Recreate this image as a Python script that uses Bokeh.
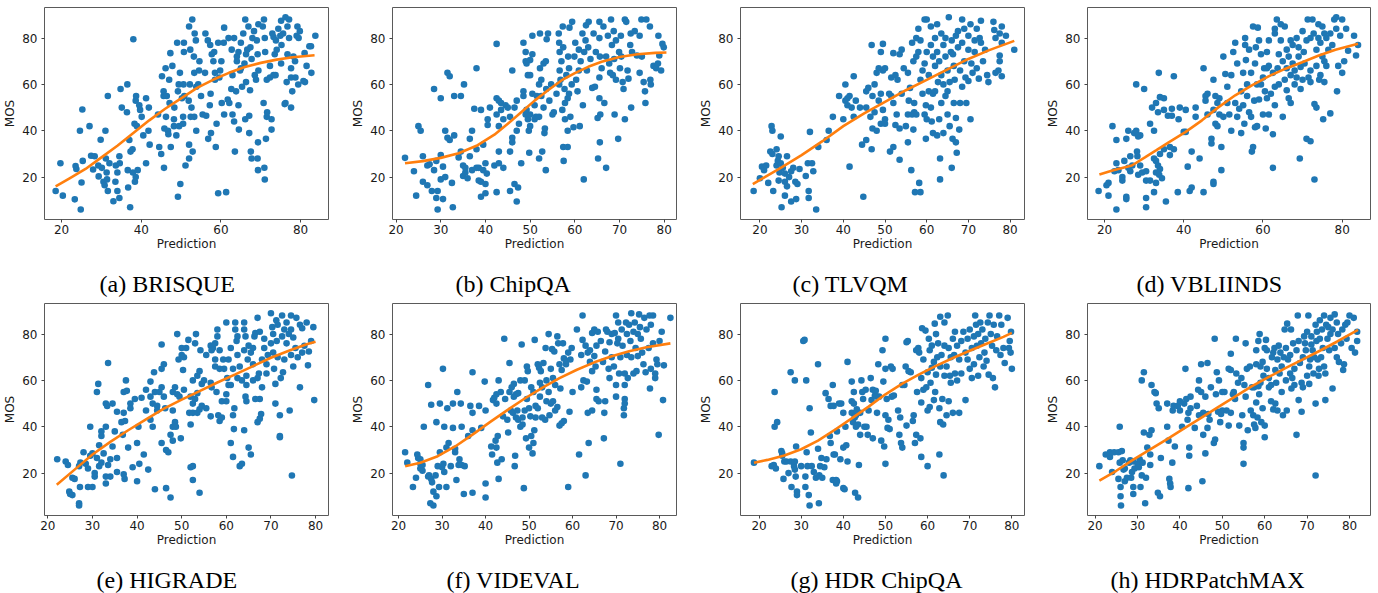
from bokeh.plotting import figure
from bokeh.layouts import column, row
from bokeh.models import Range1d, FixedTicker, Title
from bokeh.embed import file_html
from bokeh.resources import INLINE

# ---------------- data ----------------
captions = ["(a) BRISQUE", "(b) ChipQA", "(c) TLVQM", "(d) VBLIINDS",
            "(e) HIGRADE", "(f) VIDEVAL", "(g) HDR ChipQA", "(h) HDRPatchMAX"]
x_label = "Prediction"
y_label = "MOS"
y_ticks = [20, 40, 60, 80]
x_ticks_wide = [20, 40, 60, 80]
x_ticks_narrow = [20, 30, 40, 50, 60, 70, 80]

brisque_pts = [(18.5,14),(19.7,26),(20.3,12),(23.3,10.4),(24.8,6),(23.5,24.8),(23.7,23.5),(24.6,40),(25.2,49.2),(25,17.7),(25.3,27),(27,42),(27.4,29.2),(28.3,29),(27.9,23.3),(29.2,25),(29.3,20.3),(29.8,36.1),(30.5,18),(30.8,16.5),(31,40),(31.1,28),(31.3,22),(31.6,14),(31.6,55),(31.4,19),(30.1,24),(32,26),(33,9.6),(33.5,18),(33.6,25),(34,14),(34,22),(34.5,29),(34.5,11),(34.6,26),(34.8,58),(35.1,50),(36.5,60),(36.4,48),(36.6,23),(36.7,15.5),(37,36),(37.3,31),(37.2,7),(38,79.5),(37.8,32),(37.9,22),(38.6,53),(38.3,43),(38.4,18),(38.6,20),(38.7,55),(39.1,23),(38.9,42),(39.5,51),(39.7,49),(40.1,46),(40.5,38),(41.2,54),(41.2,26),(41.8,40),(41.9,50),(42.1,34),
(44.5,33),(45,30),(45.2,63.5),(44.2,47),(45.6,55),(45.6,57),(45.8,41),(45.7,24),(46.1,67),(46.2,46),(46.7,40),(46.8,38.5),(46.4,55),(47.1,52),(47,62),(47.3,73.5),(47.4,33),(47.8,68),(48.2,45),(48.2,42),(48.3,50),(48.8,38),(49,78),(49.2,11.5),(49.2,57),(49.5,42),(49.4,60),(49.7,65),(49.8,17),(50.2,54),(50.5,46),(50.5,43),(50.7,78),(50.7,74),(50.6,60),(50.8,55),(51.1,25),(52,85),(51.9,53),(52,34),(52,28),(52.2,60),(52.4,46),(52.3,75),(52.8,88),(52.6,50),(52.9,31),(53.2,72),(53.4,82),(53.3,65),(53.3,46),(53.8,59),(53.7,79),(54.3,60),(54.5,66),(53.8,40),(54.6,70),(55,55),(55.4,47),(56.1,82),(56,65),(56.3,46.5),(56.7,79),(56.8,36.5),(57.3,77),(57.2,51),(57.5,39),(57.7,73),(57.4,56),(58.1,70),(58.3,74),(58.5,65),(58.5,62),(58.9,43),(58.7,33),(59.3,13),(59.3,78),(59.6,63),(60.1,70),(60.2,52),(60.7,78),(59.8,66),(60.8,84.5),(60.8,47),(61.3,13.5),(61.7,53.5),(61.9,80),(62.1,52),(62.6,58),(62.7,75),(62.9,64),(62.9,47),(63.3,80),(63.3,44),(63.5,31),(63.8,57),(64,72),(64,70),(64.4,74),(64.5,40.5),(64.4,51),(64.8,66),(65,67),(65,78),(65.3,59),(66.1,45),(66.1,88),(65.6,82),(66.3,73),(66.3,61),(65.9,69),(66.6,75),(66.9,85),(67.1,46.5),(67.1,39),(67.5,31),(67.7,28),(67.3,57.5),(67.4,76),(67.9,80),(67.7,71),(68.3,83),(68.5,64),(68.8,62),(69.2,73),(69,79),(69.4,66),(69.4,86),(69.3,35),(69.3,23),(69.2,28),(70.7,52),(71,80),(70.5,85),(70.8,88),(70.9,24),(71,19),(71.1,74),(71.5,46),(71.3,36.5),(71.6,48),(71.5,62),(72.3,63),(72.3,68),(73.2,80.5),(72.9,82),(73.2,64),(72.7,40.5),(72.7,45),(73.8,79),(73.5,73),(74,75),(73.7,64),(74.4,84),(74.9,81),(75.1,87.5),(75.1,69),(75.2,77),(75.6,82),(76,51.5),(76.2,89),(76.7,85),(76.5,61),(76.2,52),(76.7,73),(77.1,80),(77.1,88),(77.6,67),(77.6,63),(77.6,50),(77.9,57),(78.2,72),(78.6,70),(78.7,63),(79,81),(79.2,85),(79.4,60),(79.8,83),(79.5,80),(81.1,61),(81,73.5),(80.7,61.5),(81.5,68),(82.2,76.5),(82.6,76.5),(82.7,65),(83.7,81)]
brisque_fit_x = [18.5, 22, 26, 30, 34, 38, 42, 46, 50, 54, 58, 62, 66, 70, 74, 78, 83.5]
brisque_fit_y = [16, 19.5, 23.5, 28.5, 33.5, 39, 44.5, 49.5, 54, 58.5, 62, 65, 67.5, 69.3, 70.7, 71.7, 72.6]

chipqa_pts = [(22,28.3),(24,22.5),(24.5,12),(25,42),(25.5,40),(26,18),(26,29),(27,25),(27,16.5),(27.5,25.5),(28,14),(28.5,58),(28.5,23),(29,11),(29,27),(29.3,14),(29.3,6),(30,29.5),(30,54),(30,19),(30.5,10.5),(30.5,24.5),(31,20),(31,40),(31.5,65),(31.5,37),(32,36),(32,63.5),(32.5,17.5),(32.7,7),(33,55),(33,38),(34,28.5),(34.5,55),(34.5,31),(35,20.5),(35,25),(35.2,60),(35.5,22),(35.5,24),(36,19.5),(36.5,29),(36.5,36.5),(37,23),(37,40),(37.5,49.5),(38,67),(38,24),(38,32),(38.5,18.5),(38.5,24),(39,49),(39,18),(39,11.5),(39.5,34),(39.5,23),(40,13),(40,17),(40,26),(40.3,21.5),(40.5,42.5),(40.5,45),(41,50),(42,25),(42.5,54),(42.5,13.5),(42.5,47),(42.5,77.5),(43,53),(43,26),(43,31),(43,42),(43.5,49),(43.5,52),(44,45),(44,24),(44.5,51),(45,50),(45.5,31),(45.5,14),(45.5,46),(46,66),(46,35),(46,37),(46.5,50),(46.5,17),(47,9.5),(47,40),(47,53),(47.3,15.5),(47.5,43),(48,26),(48.5,57),(48.5,55),(48.5,78),(49,70),(49,74),(49.2,69),(49,47),(49.2,49),(49.5,64),(49.5,45),(49.7,40),(49.8,30.5),(50,70.5),(50,64),(50,47),(50,42),(50.5,81),(50.5,73),(50.5,56),(51,45),(51,51),(51.3,46),(51.5,55),(52,60),(52,28),(52,46),(52.2,67),(52.2,82),(52.5,55),(52.5,62),(52.7,31),(53,69),(53.2,39),(53,50),(53.5,70),(53.3,41),(53.5,23),(53.7,79.5),(53.6,58),(54,82),(54.3,53),(54.7,60),(55,47),(55.3,48),(55.9,56),(56.4,82),(56.5,78),(56.6,74),(56.5,60),(56.6,66),(56.8,62),(57,70),(57.3,85),(57.2,49),(57.4,33),(57.5,27),(57.4,76),(57.7,58),(57.8,52),(57.8,45),(58.1,64),(58.4,40),(58.4,33),(58.4,54),(58.5,72),(58.7,67),(58.7,56),(58.8,84.5),(59,46),(59.3,60),(59.4,87),(59.7,41.5),(59.9,72),(60.1,78),(60.3,62),(60.6,57),(60.9,75),(60.9,66),(61.1,42),(61.3,70),(61.7,82),(61.8,51),(62,19),(62.1,74),(62.4,79),(62.5,85.5),(62.7,66),(63,76),(63.1,87),(63.5,71),(63.9,58.5),(64.2,82),(64.5,59),(64.7,74),(65.2,28),(65.1,45.5),(65.6,35),(65.5,63),(65.6,72),(65.5,80),(65.5,54),(65.7,47),(65.5,87),(66,67),(66.6,52),(66.4,85),(67,24),(67,72),(67.4,81),(67.7,69),(67.9,65),(68.1,88),(68.3,77),(68.5,64),(68.7,83),(68.8,71),(68.9,47),(69.2,79),(69.2,62),(69.7,36.5),(69.9,74),(70.3,81),(70.1,67),(70.4,72),(70.9,58),(70.7,61),(71.2,88),(71.2,45),(71.5,87),(71.8,66),(72,62.5),(72.4,77),(72.5,82),(72.6,50),(72.8,74),(73.4,83),(73.9,72.5),(74.5,81),(74.5,65),(74.9,88),(75,72),(75.4,61),(75.7,57),(75.8,52),(76,88),(76.8,85),(76.9,62),(77,60),(77.6,68),(78.2,67),(78.6,69),(78.7,81),(78.9,72.5),(79.3,66),(79.6,77.5),(79.9,76)]
chipqa_fit_x = [22, 26, 30, 34, 38, 42, 45, 48, 51, 54, 57, 60, 63, 66, 70, 74, 78, 80.5]
chipqa_fit_y = [26, 26.9, 28.3, 30.3, 33.5, 38.3, 43, 48, 53, 57.5, 61.7, 64.9, 67.6, 69.8, 71.8, 73, 73.6, 73.8]

tlvqm_pts = [(18.5,14),(20,19.5),(20.5,24.5),(21,23),(21.5,25),(22,17.5),(22.5,31),(22.8,42),(23,40),(23,30),(23.2,14),(24,25),(24,32),(24.3,27),(24.5,18.5),(24.5,29),(24.7,22),(25,26),(25,37.5),(25.2,7),(25.5,24),(26,18),(26,21.5),(26,12),(26.5,16),(26.5,29),(27,20),(27.5,22.5),(27.5,9.5),(28,24),(28.5,18),(28.7,10.5),(29,17),(29.5,23.5),(31,20.5),(31.5,26),(31.7,14),(31.7,11),(32,39.5),(32.5,26),(32.8,22.5),(33.5,6),(34,33),(36,36),(36.5,40),(37.5,46),(39,55),(40,45),(40.5,53),(40.5,60),(41,51),(41,54),(41.5,24.5),(41.5,55),(42,50),(42.5,63.5),(42.5,46),(43,53),(44,50),(44.5,34),(44.8,11.5),(45.5,50),(45.5,36),(45.5,57),(46,58.5),(46.5,46),(46.8,77),(46.8,32),(47,55),(47,41),(47.5,48),(47.5,60),(48,40),(48,65),(48.5,53),(48.5,67),(49,74),(49,56),(49,43),(49.5,77.5),(49.5,66),(49.5,49),(50,67),(50,45),(50,43),(51,56),(51.2,31),(51.5,55),(51.5,63),(52,52),(52,73.5),(52,33),(52.5,42.5),(52.5,64),(52.8,47),(53,62),(53.5,41),(53.5,27.5),(53.5,73),(54,56),(54,75),(54.5,67),(55,42),(55.5,65),(55.5,47),(55.5,35),(55.7,53),(56,58.5),(56.3,23),(56.5,78),(56.5,47),(56.8,40.5),(56.8,70),(57,48),(57,52),(57.2,13.5),(57.5,80),(57.5,47),(57.5,72),(58,84),(58,74),(58.2,17.5),(58.5,13.5),(58.5,62),(58.5,79),(59,56),(59,66),(59.5,47),(59.5,88),(59.5,69),(59.8,36.5),(59.8,51),(60,45),(60,74),(60,88),(60.5,57),(60.5,64),(61,85),(61,50),(61,77),(61.2,44),(61.5,72),(61.5,56),(61.5,39),(62,80),(62,68),(62,57),(62.5,38),(62.5,74),(62.5,86),(62.7,61),(63,45),(63,70),(63.2,19),(63.2,28),(63.5,52),(63.5,64),(63.5,82),(64,60),(64,77),(64,39),(64.5,55),(64.5,72),(64.5,80),(65,66),(65,47),(65,57),(65.3,89),(65.5,61),(65.5,42),(65.8,74),(66,79),(66,24),(66.2,36.5),(66.3,73),(66.5,68),(66.5,52),(66.7,62),(67,35),(67,45.5),(67,81),(67.2,30.5),(67.5,76),(67.5,83),(67.8,40.5),(68,52),(68,66),(68.5,88),(68.5,78),(68.5,59),(69,84),(69,70),(69.3,63),(69.5,52),(70,81),(70,75),(70,61.5),(70.5,45),(70.5,86),(70.7,69),(71,65),(71.5,79),(71.5,74),(72,84),(72,67),(72.5,62.5),(72.7,80),(73,87.5),(73,78),(73.5,70),(74,75),(74.5,64),(74.8,61),(76,87),(76.2,83.5),(76.5,65),(76.5,80),(77.2,66),(77.5,82),(77.5,70),(77.5,72.5),(78,78),(78,85),(78,63.5),(79,81),(81,75)]
tlvqm_fit_x = [18.3, 25, 30, 35, 40, 45, 50, 55, 60, 65, 70, 75, 81]
tlvqm_fit_y = [17, 24, 29.5, 35.5, 42, 47.5, 52.5, 57.5, 62, 66.5, 71, 74.8, 78.8]

vbliinds_pts = [(18.5,14),(20.5,16.5),(21,12),(21,17.5),(22,42),(22.5,22.5),(23,6),(23,36),(23,26),(23.5,23),(24.5,18.5),(24.5,20),(25,27),(25.5,10.5),(25.5,11.5),(25.5,36.5),(26,24),(26,40),(26.5,29),(26.5,22.5),(27,25),(27.5,39),(28,40),(28,60),(28.2,31),(28.3,29),(28.5,37.5),(28.5,21),(29,25),(29,38),(29.5,22),(30,58),(30.5,18.5),(30.5,11),(30.5,22.5),(30.5,7),(31.5,43),(31.5,18.5),(32,50),(32.5,28),(32.5,40),(32.5,13.5),(33,52),(33,22),(33,17.5),(33,27),(33.5,25),(33.5,48),(33.7,65),(33.8,21),(34,54.5),(34,30),(34,23.5),(34.5,19.5),(35,54),(35,32),(35,49),(35.5,9.5),(36,46.5),(36.5,29.5),(36.5,33),(37,49.5),(37,46.5),(37.5,63.5),(37.5,32),(38.5,13.5),(38.7,45),(39,50),(40,39.5),(40.5,39.5),(40.5,49),(41,24.5),(41.5,14),(42,15.5),(42,31),(43,46),(43,50),(44,28),(45,13.5),(45,67),(45.5,55),(45.5,53),(46,47),(46,56),(47,36.5),(47,34.5),(47.5,62),(47.5,49),(47.5,17),(47.5,18),(48,55),(48,43),(48.5,42),(48.5,52),(49,54),(49,47),(49.5,23),(49.5,33),(50,72),(50,46),(50.5,64.5),(51,59),(51,52),(51.5,47),(52,64),(52,40),(52.5,74),(53,78),(53,52),(53.5,46),(53.5,69),(54,49.5),(54.5,57),(54.5,39),(55,65),(55,51),(55.3,43),(55.5,77),(55.5,80),(55.7,70.5),(56,60),(56,55),(56.5,48),(56.5,75),(57,65),(57,46),(57.2,31),(57.5,33),(57.5,85),(57.8,53),(58,41.5),(58,69),(58.2,76),(58.5,42),(58.5,60),(58.7,84.5),(59,53.5),(59,79),(59.5,73),(59.5,60),(60,47),(60,63),(60.3,67),(60.5,57),(60.7,41),(61,74),(61,67),(61,54),(61.5,79),(61.5,68),(61.5,47),(62,56),(62.5,24),(62.5,38.5),(62.5,65),(63,84),(63,82),(63,59),(63,51),(63.5,88),(63.7,67),(64,60),(64,73),(64.5,86),(64.5,79),(65,70),(65,46),(65.5,62),(65.5,85),(66,67),(66,57.5),(66,75),(66.5,54),(66.5,72),(67,79),(67,52),(67,64),(67.5,69),(67.5,77),(68,60),(68,66),(68.5,63),(68.5,80),(69,72),(69,76),(69.3,28),(69.5,58),(69.5,67.5),(70,62),(70,83),(70.3,74),(70.5,69),(71,36.5),(71,79),(71.3,88),(71.5,63),(72,66),(72,35.5),(72,61),(72,80),(72.5,88),(72.8,82),(73,19),(73,51.5),(73.5,50),(73.5,75),(73.5,68),(74,86),(74,80),(74.2,62),(74.5,64),(74.5,78),(75,72),(75,85),(75.2,45),(75.5,70),(75.5,61),(75.5,82),(76,68),(76,80),(76.5,75),(77,47.5),(77,82),(77.5,77),(78,88),(78.5,89),(78.5,84),(78.7,57),(79,68),(79.5,81),(80,65),(80,88),(80.5,70),(81,84),(81.5,74.5),(83,81),(83.5,72.5),(84,77)]
vbliinds_fit_x = [18.7, 22, 26.9, 30.3, 33, 36.2, 40.4, 44.6, 48.8, 53, 57.2, 61.4, 65.7, 69.9, 74.1, 78.3, 84]
vbliinds_fit_y = [21.1, 22.8, 25, 28.6, 31.5, 35, 39.4, 44.5, 50.2, 55.3, 59.6, 63.5, 66.8, 69.6, 72.5, 75, 77.6]

higrade_pts = [(22.1,26),(24,25),(24.5,23.5),(24.8,12),(25,11),(25.5,10.5),(25.5,18),(26,17.5),(27,23),(27,7),(27,6),(27.2,14),(27.3,24.5),(28,29),(28.5,24),(29,14),(29,22),(29.5,27.5),(29.5,40),(30,28.5),(30,14),(30.5,20),(30.5,18.5),(31,26.5),(31,55),(31.3,58.5),(31.5,32),(31.5,23),(32,36),(32,24.5),(32,38),(32.5,28.5),(33,40),(33,15.5),(33,50),(33,18.5),(33.3,49),(33.5,23.5),(33.5,67.5),(34,26),(34,18.5),(34.5,31.5),(34.5,50),(35,38),(35.5,46.5),(35.5,26.5),(35.5,20.5),(36.5,42),(36.8,36.5),(37,46),(37,55),(37,19.5),(37.2,17.5),(37.3,42.5),(37.5,60),(37.7,55.5),(38,31),(38.5,50),(38.5,48),(39,22.5),(39.5,52),(40,33),(40,16.5),(40.3,40),(40.5,24),(41,52.5),(41.5,28),(42,56),(42,47),(42.5,21.5),(43,43),(43,53),(43,59.5),(43.5,50),(43.5,40),(43.8,63.5),(44,13),(44,55),(44.5,49),(44.5,47),(45,55),(45.5,57),(45.5,75.5),(45.5,33),(45.5,65),(46,67),(46,53),(46.3,48),(46.5,30),(46.5,13.5),(47,29),(47.5,36.5),(47.5,9.5),(48,34),(48,55),(48,40),(48,47),(48.5,57),(48.5,42),(48.7,40),(49,54),(49,80),(49.3,69),(49.5,53),(49.8,35),(50,71),(50,74),(50.3,64.5),(50.5,56),(50.5,70),(51,74),(51.5,77.5),(51.7,46),(52,41),(52,22.5),(52,53),(52.5,60),(52.5,50),(52.5,23),(52.5,17),(52.5,46),(53,52),(53,76),(53.2,80),(53.5,62),(53.5,54.5),(53.5,46),(54,64),(54,47.5),(54,11.5),(54.2,73),(54.5,58.5),(54.5,49),(55,60),(55.5,71),(55.5,48),(56.5,59),(56.5,75),(56.5,44.5),(56.7,73),(56.7,57),(57,74),(57.5,76),(57.5,69),(57.5,66),(57.8,55),(58,79),(58,82),(58.2,45),(58.5,42.5),(58.5,65),(58.5,73),(59,51),(59,44),(59.3,69),(59.5,65),(60,85),(60,51),(60,54),(60.2,61),(60.5,58),(60.5,69),(61,33),(61,74),(61,58),(61.5,45),(61.5,27),(61.5,65),(61.7,39),(61.8,48),(62,82),(62,85),(62.3,77),(62.5,79),(62.5,71),(62.5,61),(63,66),(63,23),(63.5,60),(63.5,24),(64,73),(64,85),(64,82),(64,38.5),(64.3,79),(64.3,53),(64.5,58),(64.5,62),(64.5,51),(64.8,69),(65,31),(65,75),(65.5,72),(65.5,28),(66,60),(66,67),(66,74),(66.3,79),(66.5,80.5),(66.5,52),(67,42),(67,61),(67,87),(67.3,63),(67.5,81),(67.5,43.5),(67.5,52),(67.8,45.5),(68,69),(68,57),(68.5,78),(68.5,74),(69,63),(69,67),(69.3,71),(70,89),(70,76),(70.3,83),(70.5,80),(70.5,72),(70.7,65),(71,58.5),(71,50),(71.2,86),(71.3,77),(71.5,84),(71.5,70),(72,36),(72,45),(72,35.5),(72.2,61),(72.5,79),(72.5,88),(72.7,63.5),(73,82),(73,69),(73.5,85),(73.5,76),(74,80),(74.2,47),(74.5,88),(74.5,82),(74.5,71),(74.7,19),(75,66),(75,78.5),(75.5,74),(75.7,87),(76,70),(76.5,57),(76.5,84),(77,82.5),(77,72),(77.5,75),(78,85),(78.3,66.5),(78.5,72.5),(79,77),(79.5,83),(79.7,51.5)]
higrade_fit_x = [22, 26, 30, 34, 38, 42, 46, 50, 54, 58, 62, 66, 70, 74, 78, 80]
higrade_fit_y = [15, 21.5, 28, 33.5, 38.5, 43.2, 47.8, 51.7, 55.4, 59.1, 62.6, 66.2, 69.8, 72.8, 75.6, 76.7]

videval_pts = [(21.5,29),(22,24.5),(23.3,14),(24,18),(24.3,28),(24.5,26.5),(25,24),(25,26),(25,22),(25.5,23.5),(25.5,21),(25.8,40),(26.8,58),(26.8,18.5),(27,19),(27.3,7),(27.5,17.5),(27.5,49.5),(27.7,16),(28,6),(28,12),(28.5,19),(28.7,42),(28.7,10),(29,23),(29.3,14),(29.5,50),(29.5,29),(30,22.5),(30.2,65),(30.3,24),(30.5,40),(30.5,20.5),(31,14),(31,31),(31.2,48),(31.5,33),(32,23),(32.5,50),(32.5,39.5),(33,29),(33,30.5),(33.3,17),(33.5,55),(33.8,23.5),(34,26),(34.3,50),(34.5,40),(34.5,23.5),(35,11),(35.2,23),(36,36),(36.5,49),(37,38.5),(37,46),(37,11.5),(37,63.5),(38.5,49),(39,39.5),(39.8,59.5),(40,47),(40,15.5),(40,9.5),(41.3,31.5),(41.5,28),(41.7,51.5),(42,52.5),(42.3,34),(42.5,50),(42.5,31),(42.5,54),(42.7,24.5),(42.8,36),(43,17.5),(43,60),(43.5,55),(43.7,26),(44,44.5),(44.3,78),(44.5,52),(45,43),(45.2,37.5),(45.5,67.5),(45.5,55),(45.8,47),(46,57),(46.3,46),(46.5,53),(46.5,58.5),(46.7,23),(46.8,27.5),(47,54),(47,44),(47.3,47),(47.5,43),(47.5,54.5),(48,40),(48,60),(48.3,75.5),(48.5,44),(48.5,41),(48.8,13.5),(49,60),(49,47),(49.3,35),(49.5,66),(49.5,52),(49.7,64),(50,31),(50,48),(50.3,44.5),(50.5,57),(50.5,36),(50.8,28.5),(51,55),(51,33),(51.2,38.5),(51.3,77.5),(51.5,49),(51.5,44),(52,67),(52,48),(52.3,65.5),(52.5,59),(52.5,53),(52.7,64),(53,57),(53,44),(53.3,67.5),(53.7,43),(53.8,74),(54,51),(54,60),(54.5,55),(54.5,80),(54.7,45),(55,65),(55,50),(55.3,73.5),(55.5,51),(55.5,61),(55.8,72.5),(56,58),(56,47),(56.5,48.5),(56.5,79),(56.7,76),(57,40.5),(57,67),(57.2,56.5),(57.5,64.5),(57.5,41.5),(57.8,76),(58,42.5),(58,69.5),(58.5,67),(58.5,68.5),(59,72),(59,14),(59.3,46.5),(59.5,69),(59.8,74),(60,55),(61,82),(61.5,28),(62,71),(62,57),(62.3,77.5),(62.3,88),(62.5,60),(63,75),(63,19),(63.3,59.5),(63.5,72),(63.5,46),(63.7,33),(64,68),(64,73),(64.5,80.5),(64.5,64),(64.5,47),(65,82),(65,70.5),(65.3,66),(65.5,56),(65.5,52),(65.5,75),(65.8,81),(66,51),(66.5,77),(67,68),(67.2,35),(67.3,46),(67.5,51),(67.5,72.5),(67.7,82),(68,81),(68.3,65),(68.5,76.5),(68.5,61),(69,80),(69,70),(69.5,66),(69.7,80.5),(70,88),(70,58),(70,53),(70.3,76),(70.5,85),(70.5,78),(70.7,63),(71,24),(71,70),(71.3,82),(71.5,75),(71.8,45),(71.8,48),(72,52),(72,50),(72,58),(72,63),(72.3,85),(72.5,80),(72.5,71),(72.7,61),(73,84),(73.3,77),(73.5,89),(73.5,70),(74,81),(74,63),(74.3,85),(74.5,74),(74.7,64),(75,80),(75,70.5),(75.3,88.5),(75.5,83),(75.7,78),(76,72),(76.3,67),(76.5,87),(76.8,63.5),(77,82),(77.5,74),(77.7,88),(77.8,56.5),(78,84),(78,65),(78.5,88),(78.5,76),(79,63),(79,61),(79.3,69),(79.5,67),(79.8,36.5),(80,77),(80.5,81),(80.8,51.5),(81,66.5),(82.5,87)]
videval_fit_x = [21.5, 25, 29, 33, 37, 41, 45, 49, 53, 57, 61, 65, 69, 73, 77, 82.5]
videval_fit_y = [23, 24.5, 27.3, 31.5, 36.6, 42, 47.2, 52.2, 56.8, 61, 64.6, 67.8, 70.4, 72.6, 74.3, 76]

hdrchipqa_pts = [(18.8,24.5),(23,23),(23.5,23.5),(23.7,40),(23.7,55),(24,22),(24.3,42),(25.3,29.5),(25.5,27.5),(25.5,28.5),(25.8,17.5),(26,25),(26.5,25),(27,20),(27.5,63.5),(27.5,25),(27.7,14),(28.3,23),(28.5,25),(28.5,21.5),(28.5,60),(28.7,18.5),(28.8,31.5),(29,12),(29,10.5),(30,23),(30.5,77),(30.8,77.5),(31,14),(31,18.5),(31.2,60),(31.3,29),(31.5,23),(31.8,10.5),(32,48),(32,6),(32.3,37.5),(32.5,23),(33,20.5),(33.5,18),(34,67),(34,30.5),(34.2,7),(34.3,19),(34.5,23),(34.8,26.5),(35,18),(35.5,22.5),(35.8,54.5),(36,26),(36.5,52),(36.8,36),(37,49),(37,33),(37.5,17),(37.5,58),(37.7,28),(37.7,49),(38,28),(38.3,17),(38.3,15.5),(38.5,38),(38.5,16.5),(39,50),(39.3,26),(39.5,50),(40,46),(40,31),(40,13.5),(40.3,13),(40.5,40),(40.7,32),(41,68),(41,25),(42,59.5),(42,46),(42,51),(42.3,42),(42.5,50),(42.5,55),(42.7,44),(42.8,11.5),(43,45),(43,40),(43.2,47.5),(43.5,9.5),(43.5,41),(43.7,23.5),(44,46),(44,36.5),(44.3,60),(44.5,55),(44.7,52),(45,40),(45.3,56),(45.5,40),(45.8,36.5),(46,47),(46.5,61),(46.7,51.5),(47,35),(47,56),(47.5,53.5),(47.7,55.5),(48,53),(48,46),(48.3,67),(48.5,53),(49,34),(49.3,73),(49.5,59.5),(49.7,31.5),(50,24),(50,45),(50,78),(50,65),(50.3,52),(50.5,39.5),(50.7,43),(51,39),(51.3,66),(51.5,53),(51.7,65),(52,53.5),(53,47),(53.3,36.5),(53.5,44),(53.7,33),(54,58),(54,31),(54.5,58),(54.8,66),(55,40.5),(55,76.5),(55.3,77),(55.5,64),(56,63.5),(56.5,42.5),(56.7,45),(57,33),(57.3,73),(57.3,36.5),(57.5,55),(57.8,74),(58,72),(58.3,35),(58.5,61),(58.5,27),(58.5,50.5),(58.7,82.5),(59,69),(59,56),(59.5,81.5),(59.7,57),(60,47),(60,23),(60,63.5),(60.3,78),(60.5,73),(60.5,48.5),(60.7,59),(61,65.5),(61,75),(61.5,51.5),(61.5,68),(61.7,84.5),(61.8,55),(62,80),(62,62.5),(62.3,70),(62.5,76),(62.8,48),(62.8,28),(63,42),(63,87.5),(63,66),(63.3,71),(63.5,52),(63.7,41),(63.8,19),(64,75),(64,85),(64,62),(64.5,66),(64.5,45),(64.8,88),(65,74),(65,51),(65.3,62),(65.5,70),(65.5,59),(66,46),(66,78),(66.3,71),(66.5,81),(66.5,63),(67,60),(67,75),(67.5,46),(67.5,69),(68,77),(68,63),(68.5,81),(69,72),(69,51.5),(69.5,78),(69.5,69),(70,65),(70,82),(70.5,74),(70.5,61),(71,67),(71,79),(71.3,88),(71.5,84),(71.7,75),(72,62),(72,80),(72.3,70),(72.5,85),(72.7,76),(73,82),(73.3,66),(73.5,72),(73.7,78),(74,68.5),(74.3,85),(74.5,62.5),(74.7,88),(75,80),(75.3,75),(75.5,61),(75.7,84),(76,57),(76.3,73),(76.5,79),(77,88),(77.3,71),(77.5,84),(78,74),(78.3,67.5),(79,87),(79.3,74),(79.5,77),(79.7,72),(80,65),(79.8,81)]
hdrchipqa_fit_x = [18.8, 22, 26, 30, 34, 38, 42, 46, 50, 54, 58, 62, 66, 70, 74, 78, 80]
hdrchipqa_fit_y = [24.5, 25.7, 27.6, 30.3, 34, 38.7, 43.6, 48.7, 54, 58.6, 62.6, 66.3, 69.7, 72.8, 75.8, 78.8, 80.5]

hdrpatchmax_pts = [(21,23),(22.5,28),(23.5,27),(23.5,29),(24,20.5),(24.5,29),(25.5,29),(25.5,17.5),(25.8,24.5),(25.8,40),(26,14),(26,10),(26.1,6),(26.3,29.5),(26.5,25.5),(26.7,21.5),(27,16.5),(27,22),(27.5,18),(28,24.5),(28.3,25.5),(28.5,18),(28.7,20.5),(29,14),(29,11),(29,25),(29.3,22),(30,24),(30.3,22.5),(30.5,26),(30.7,14),(31,60),(31,19),(31.2,24.5),(31.5,63.5),(31.5,37.5),(31.8,7),(32,18),(32.3,31),(32.8,36.5),(33,28),(33,23.5),(33.3,58),(33.3,38.5),(34,55),(34.3,54.5),(34.5,50),(34.8,11.5),(35,48),(35.3,10),(35.5,26.5),(37,50),(37,40),(37.3,34),(37.5,17.5),(37.7,15.5),(37.8,14),(38.2,24.5),(38.3,47),(38.5,49),(38.8,31.5),(39.5,49),(40,51),(40,47),(40.5,40),(41,50),(41.3,65),(41.5,52),(41.8,43),(42,46),(42,13.5),(42.2,31),(42.2,27.5),(42.5,48),(42.5,53),(43.5,39.5),(44,49),(44.3,56),(44.5,60),(44.5,45),(45,67),(45,55),(45.3,16.5),(45.5,46),(45.5,36.5),(46,53),(46,28.5),(46.5,67.5),(46.5,39.5),(46.7,45.5),(47,43),(47.3,57),(48,33),(48.2,78),(48.3,34.5),(48.5,54),(48.7,63.5),(49,46.5),(49.2,60),(49.5,42),(49.7,45.5),(50,47),(50,55),(50.5,55),(51,47),(51.5,65),(51.5,40.5),(52,64.5),(52,71.5),(52,46),(52.5,54),(52.7,55),(53,52),(53.2,78),(53.3,63),(53.7,59),(54,40.5),(54.5,61),(54.7,45),(55,24),(55,31),(55,33),(55.2,58),(55.5,76),(55.5,53),(55.8,65),(56,38.5),(56.5,66),(56.7,47),(57,57),(57.3,45),(57.5,57),(57.5,41),(57.8,39.5),(58,67),(58,50.5),(58,73),(58.3,44),(58.5,77),(58.5,57.5),(58.7,54),(58.8,80),(59,66),(59,59),(59.2,42),(59.5,68),(59.5,48),(59.7,62),(60,74),(60,40.5),(60,35.5),(60.3,77.5),(60.5,65),(60.5,73),(61,57),(61,61),(61.5,58),(61.5,51),(61.7,70),(62,72),(62,47.5),(62.3,74),(62.5,64.5),(62.5,50),(62.7,59),(63,69),(63,47),(63.3,75),(63.5,63),(63.7,72),(64,66),(64,55),(64.3,45),(64.5,70),(64.7,82),(65,60),(65,74),(65.2,47),(65.3,84.5),(65.5,69),(66,63),(66,71),(66.2,82),(66.3,56.5),(66.5,61),(66.7,76),(67,58),(67,65),(67.5,73),(67.5,36.5),(67.8,88),(68,77),(68,51.5),(68.3,67.5),(68.7,46.5),(68.7,59),(69,70),(69,57),(69.3,79),(69.5,76),(69.7,73),(70,62),(70,81),(70.3,88),(70.5,58.5),(70.5,66),(70.7,69),(71,75.5),(71,79),(71.3,73),(71.5,63),(71.7,70),(72,84),(72,19),(72,50),(72.2,77),(72.3,81),(72.5,69),(72.7,62),(72.8,65),(73,78),(73,86),(73.3,70),(73.5,82),(73.7,74),(74,66),(74,88),(74.3,63),(74.3,51.5),(74.5,84),(74.8,78),(75,83),(75.2,73),(75.5,87),(75.5,80),(76,56.5),(76,82),(76.5,88.5),(76.5,74),(77,85),(77,70),(77.3,80),(77.5,68),(78,76),(78.3,82),(78.5,64.5),(78.7,67),(79,84),(79.3,78),(79.5,85),(80,88),(80.5,74),(81,87),(81.3,72),(81.8,77),(81.8,81)]
hdrpatchmax_fit_x = [21, 25, 29, 33, 37, 41, 45, 49, 53, 57, 61, 65, 69, 73, 77, 82]
hdrpatchmax_fit_y = [16.8, 21, 25.8, 30.2, 34.7, 39.3, 43.8, 48.5, 53, 57.5, 61.5, 65.4, 69.1, 72.8, 76.7, 81.8]

# ---------------- layout / style ----------------
x_limits = [(15.7, 87.0), (19.2, 82.75), (15.35, 83.45), (15.7, 87.15),
            (19.25, 82.9), (18.6, 83.9), (15.6, 83.0), (18.2, 84.95)]
x_tick_sets = [x_ticks_wide, x_ticks_narrow, x_ticks_narrow, x_ticks_wide,
               x_ticks_narrow, x_ticks_narrow, x_ticks_narrow, x_ticks_narrow]
caption_offset = [55, 63, 52, 49, 53, 56, 52, 25]   # caption left edge, px from frame left
Y_LIM = (1.7, 93.2)
FRAME_H = 212
COL_L = [43, 43, 44, 44]
COL_W = [284, 284, 284, 283]
COL_R = [20, 20, 19, 9]

point_sets = [brisque_pts, chipqa_pts, tlvqm_pts, vbliinds_pts,
              higrade_pts, videval_pts, hdrchipqa_pts, hdrpatchmax_pts]
fit_sets = [(brisque_fit_x, brisque_fit_y), (chipqa_fit_x, chipqa_fit_y),
            (tlvqm_fit_x, tlvqm_fit_y), (vbliinds_fit_x, vbliinds_fit_y),
            (higrade_fit_x, higrade_fit_y), (videval_fit_x, videval_fit_y),
            (hdrchipqa_fit_x, hdrchipqa_fit_y), (hdrpatchmax_fit_x, hdrpatchmax_fit_y)]

BLUE = "#1f77b4"
ORANGE = "#ff7f0e"


def caption_title(k, standoff):
    return Title(text=captions[k], align="left", offset=caption_offset[k],
                 vertical_align="bottom", standoff=standoff,
                 text_font="Liberation Serif", text_font_size="24px",
                 text_font_style="normal", text_color="black")


def make_panel(i):
    c = i % 4
    top_row = i < 4
    xlim = x_limits[i]
    p = figure(frame_width=COL_W[c], frame_height=FRAME_H,
               x_range=Range1d(*xlim), y_range=Range1d(*Y_LIM),
               output_backend="svg", toolbar_location=None, title=None,
               min_border_left=COL_L[c], min_border_right=COL_R[c],
               min_border_top=7 if top_row else 50,
               min_border_bottom=34 if top_row else 45)
    p.grid.visible = False
    p.outline_line_color = "#5a5a5a"
    p.outline_line_width = 1
    p.background_fill_color = "white"
    p.border_fill_color = "white"

    for ax in (p.xaxis[0], p.yaxis[0]):
        ax.axis_line_color = None
        ax.major_tick_in = 0
        ax.major_tick_out = 3
        ax.minor_tick_in = 0
        ax.minor_tick_out = 0
        ax.major_tick_line_color = "#444444"
        ax.major_label_text_font = "DejaVu Sans"
        ax.major_label_text_font_size = "12px"
        ax.major_label_text_color = "#1a1a1a"
        ax.axis_label_text_font = "DejaVu Sans"
        ax.axis_label_text_font_size = "12px"
        ax.axis_label_text_font_style = "normal"
        ax.axis_label_text_color = "#1a1a1a"
    p.xaxis.ticker = FixedTicker(ticks=x_tick_sets[i])
    p.yaxis.ticker = FixedTicker(ticks=y_ticks)
    p.xaxis.axis_label = x_label
    p.yaxis.axis_label = y_label
    p.xaxis.major_label_standoff = 2
    p.xaxis.axis_label_standoff = 0
    p.yaxis.major_label_standoff = 4
    p.yaxis.axis_label_standoff = 2

    xs = [pt[0] for pt in point_sets[i]]
    ys = [pt[1] for pt in point_sets[i]]
    p.scatter(xs, ys, size=6.6, color=BLUE, line_color=None)
    fx, fy = fit_sets[i]
    p.line(fx, fy, line_color=ORANGE, line_width=2.6)

    if not top_row:
        # caption of the panel directly above sits between the two rows
        p.add_layout(caption_title(i - 4, 14), "above")
    return p


def make_strip(i):
    c = i % 4
    s = figure(frame_width=COL_W[c], frame_height=1,
               x_range=Range1d(0, 1), y_range=Range1d(0, 1),
               output_backend="svg", toolbar_location=None, title=None,
               x_axis_location=None, y_axis_location=None,
               min_border_left=COL_L[c], min_border_right=COL_R[c],
               min_border_top=32, min_border_bottom=0)
    s.grid.visible = False
    s.outline_line_color = None
    s.background_fill_color = "white"
    s.border_fill_color = "white"
    s.add_layout(caption_title(i, 0), "above")
    return s


row1 = [make_panel(i) for i in range(4)]
row2 = [make_panel(i) for i in range(4, 8)]
strip = [make_strip(i) for i in range(4, 8)]
layout = column(row(*row1), row(*row2), row(*strip))

open("out.html", "w").write(file_html(layout, INLINE))
